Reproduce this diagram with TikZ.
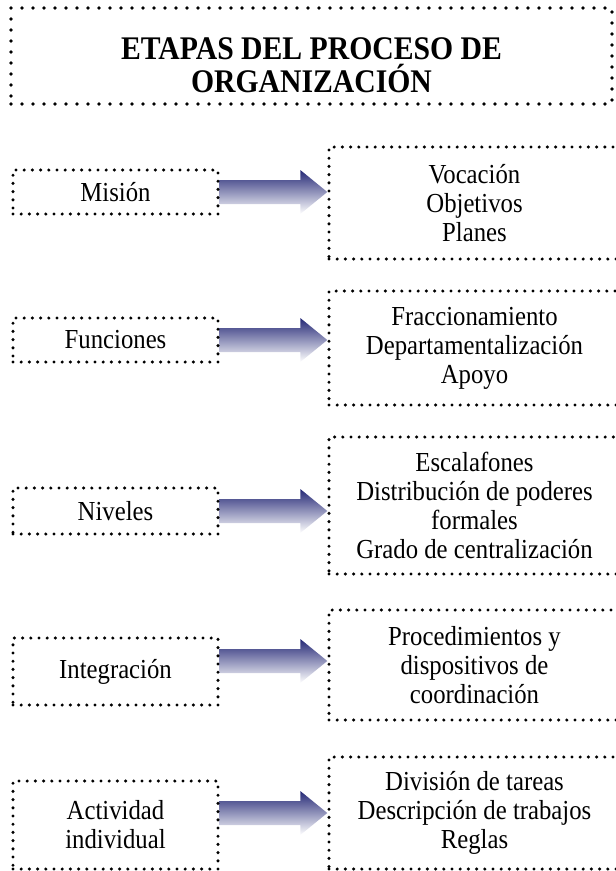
\documentclass[tikz,border=0pt]{standalone}
\usepackage{fontspec}
\setmainfont{Liberation Serif}[FakeStretch=0.9]
\usetikzlibrary{calc,backgrounds}
\definecolor{arrowdark}{RGB}{36,40,118}
\tikzset{
  dotbox/.style={draw=black, line width=3.4pt, dash pattern=on 0pt off 8.2pt,
    line cap=round, inner sep=0pt, align=center,
    font=\fontsize{27.5}{29}\selectfont},
  titlebox/.style={draw=black, line width=3.6pt, dash pattern=on 0pt off 11pt,
    line cap=round, inner sep=0pt},
  titletext/.style={align=center, inner sep=0pt,
    font=\fontsize{33}{33}\selectfont\bfseries},
  leftbox/.style={dotbox, minimum width=205pt},
  rightbox/.style={dotbox, minimum width=291pt},
  fatarrow/.style={top color=arrowdark, bottom color=white, draw=none}
}
% shaded block arrow from box #1 to box #2 along the level of coordinate #3
\newcommand\blockarrow[3]{%
  \shade[fatarrow]
    ($(#1.east |- #3)+(0,-12)$) --
    ($(#2.west |- #3)+(-27,-12)$) --
    ($(#2.west |- #3)+(-27,-22)$) --
    (#2.west |- #3) --
    ($(#2.west |- #3)+(-27,22)$) --
    ($(#2.west |- #3)+(-27,12)$) --
    ($(#1.east |- #3)+(0,12)$) -- cycle;}
\begin{document}
\begin{tikzpicture}[x=1pt, y=-1pt]
\useasboundingbox (0,0) rectangle (616,871);

\node[titlebox, minimum width=601pt, minimum height=96pt] (title) at (311.5,56) {};
\node[titletext] (heading) at ($(title.center)+(0,9)$)
  {ETAPAS DEL PROCESO DE\\ORGANIZACIÓN};

% stages
\node[leftbox, minimum height=44pt] (l1) at (115.5,192) {Misión};
\node[leftbox, minimum height=44pt] (l2) at (115.5,340) {Funciones};
\node[leftbox, minimum height=46pt] (l3) at (115.5,511) {Niveles};
\node[leftbox, minimum height=67pt] (l4) at (115.5,671.5) {Integración};
\node[leftbox, minimum height=88pt] (l5) at (115.5,825) {Actividad\\individual};

% contents of each stage
\node[rightbox, minimum height=112pt] (r1) at (474.5,203)
  {Vocación\\Objetivos\\Planes};
\node[rightbox, minimum height=114pt] (r2) at (474.5,348)
  {Fraccionamiento\\Departamentalización\\Apoyo};
\node[rightbox, minimum height=137pt] (r3) at (474.5,505.5)
  {Escalafones\\Distribución de poderes\\formales\\Grado de centralización};
\node[rightbox, minimum height=110pt] (r4) at (474.5,665)
  {Procedimientos y\\dispositivos de\\coordinación};
\node[rightbox, minimum height=112pt] (r5) at (474.5,813)
  {División de tareas\\Descripción de trabajos\\Reglas};

% arrow levels
\coordinate (a1) at (0,192);
\coordinate (a2) at (0,340);
\coordinate (a3) at (0,511);
\coordinate (a4) at (0,661);
\coordinate (a5) at (0,813);

\begin{scope}[on background layer]
  \blockarrow{l1}{r1}{a1}
  \blockarrow{l2}{r2}{a2}
  \blockarrow{l3}{r3}{a3}
  \blockarrow{l4}{r4}{a4}
  \blockarrow{l5}{r5}{a5}
\end{scope}
\end{tikzpicture}
\end{document}
